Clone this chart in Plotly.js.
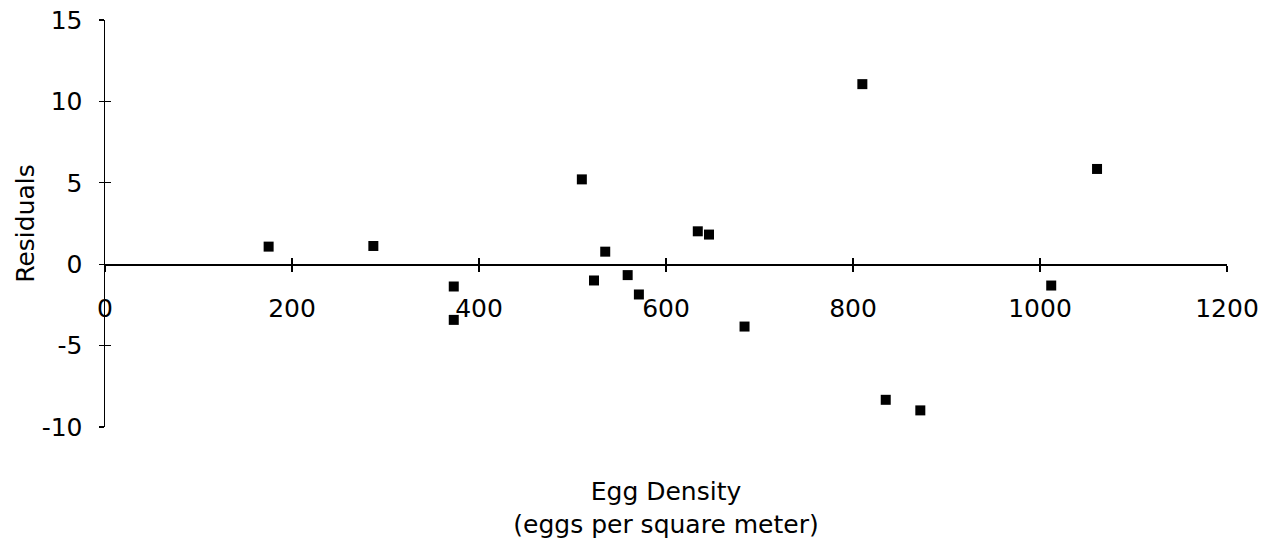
<!DOCTYPE html>
<html>
<head>
<meta charset="utf-8">
<script src="https://cdn.plot.ly/plotly-3.0.1.min.js"></script>
<style>html,body{margin:0;padding:0;background:#fff;}#chart{width:1275px;height:546px;}</style>
</head>
<body>
<div id="chart"></div>
<script>
const eggDensity = [175, 287, 373, 373, 510, 523, 535, 559, 571, 634, 646, 684, 810, 835, 872, 1012, 1061];
const residuals  = [1.08, 1.12, -1.37, -3.42, 5.21, -1.0, 0.77, -0.67, -1.86, 2.02, 1.82, -3.83, 11.06, -8.33, -8.98, -1.31, 5.85];
const xTicks = [0, 200, 400, 600, 800, 1000, 1200];
const yTicks = [-10, -5, 0, 5, 10, 15];

const FONT = "DejaVu Sans, sans-serif";
const FS = 25;
const trace = {
  x: eggDensity, y: residuals, type: 'scatter', mode: 'markers',
  marker: {symbol: 'square', size: 10, color: '#000'},
  showlegend: false, hoverinfo: 'x+y'
};

const xRange = [0, 1200], yRange = [-10, 15];
const zeroPos = (0 - yRange[0]) / (yRange[1] - yRange[0]);

const layout = {
  width: 1275, height: 546,
  margin: {l: 105, r: 48, t: 20, b: 119},
  paper_bgcolor: '#fff', plot_bgcolor: '#fff',
  font: {family: FONT, color: '#000', size: FS},
  xaxis: {
    range: xRange, tickvals: xTicks, ticktext: xTicks.map(String),
    anchor: 'free', position: zeroPos,
    showline: true, linecolor: '#000', linewidth: 1.5,
    ticks: 'outside', ticklen: 6, tickwidth: 1.2, tickcolor: '#000',
    ticklabelstandoff: 15,
    tickfont: {family: FONT, size: FS, color: '#000'},
    showgrid: false, zeroline: false, fixedrange: true
  },
  xaxis2: {
    overlaying: 'x', anchor: 'y', side: 'bottom', range: xRange,
    showline: false, ticks: '', showticklabels: false, showgrid: false, zeroline: false,
    title: {text: 'Egg Density<br>(eggs per square meter)', font: {family: FONT, size: FS, color: '#000'}, standoff: 55}
  },
  xaxis3: {
    overlaying: 'x', anchor: 'free', position: zeroPos, range: xRange, tickvals: xTicks,
    showline: false, ticks: 'inside', ticklen: 6, tickwidth: 1.2, tickcolor: '#000',
    showticklabels: false, showgrid: false, zeroline: false
  },
  yaxis: {
    range: yRange, tickvals: yTicks, ticktext: yTicks.map(String),
    showline: true, linecolor: '#000', linewidth: 1.5,
    ticks: 'outside', ticklen: 5, tickwidth: 1.2, tickcolor: '#000',
    ticklabelstandoff: 11,
    tickfont: {family: FONT, size: FS, color: '#000'},
    showgrid: false, zeroline: false, fixedrange: true,
    title: {text: 'Residuals', font: {family: FONT, size: FS, color: '#000'}, standoff: 0}
  },
  yaxis3: {
    overlaying: 'y', anchor: 'x', range: yRange, tickvals: yTicks,
    showline: false, ticks: 'inside', ticklen: 6, tickwidth: 1.2, tickcolor: '#000',
    showticklabels: false, showgrid: false, zeroline: false
  }
};

Plotly.newPlot('chart', [trace,
  {x: [], y: [], xaxis: 'x2', yaxis: 'y', showlegend: false, hoverinfo: 'skip'},
  {x: [], y: [], xaxis: 'x3', yaxis: 'y3', showlegend: false, hoverinfo: 'skip'}
], layout, {displayModeBar: false, staticPlot: true});
</script>
</body>
</html>
